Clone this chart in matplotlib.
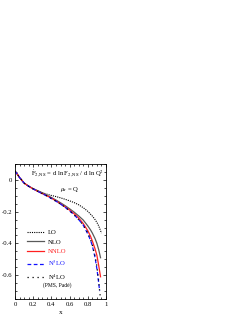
import matplotlib
matplotlib.use("Agg")
import matplotlib.pyplot as plt
from matplotlib.ticker import MultipleLocator

plt.rcParams['font.family'] = ['Liberation Serif', 'DejaVu Serif']
plt.rcParams['mathtext.fontset'] = 'stix'

# data
x_lo = [0.0, 0.02, 0.05, 0.1, 0.15, 0.2, 0.25, 0.3, 0.35, 0.4, 0.45, 0.5, 0.55, 0.6, 0.65, 0.7, 0.75, 0.8, 0.85, 0.88, 0.9, 0.92, 0.94, 0.95]
y_lo = [0.055, 0.04, 0.015, -0.02, -0.04, -0.055, -0.068, -0.08, -0.09, -0.098, -0.105, -0.113, -0.122, -0.132, -0.143, -0.157, -0.175, -0.198, -0.228, -0.25, -0.268, -0.29, -0.32, -0.335]

x_hi = [0.0, 0.02, 0.05, 0.1, 0.15, 0.2, 0.25, 0.3, 0.35, 0.4, 0.45, 0.5, 0.55, 0.6, 0.65, 0.7, 0.75, 0.8, 0.83, 0.85, 0.88, 0.9, 0.92, 0.94]
y_nlo = [0.055, 0.04, 0.015, -0.02, -0.04, -0.056, -0.07, -0.083, -0.097, -0.111, -0.127, -0.144, -0.162, -0.182, -0.203, -0.227, -0.253, -0.29, -0.315, -0.335, -0.37, -0.40, -0.44, -0.49]
y_nnlo = [0.055, 0.04, 0.015, -0.02, -0.04, -0.057, -0.072, -0.086, -0.1, -0.115, -0.132, -0.15, -0.17, -0.19, -0.213, -0.24, -0.275, -0.32, -0.355, -0.385, -0.435, -0.475, -0.54, -0.61]
x_n3 = [0.0, 0.02, 0.05, 0.1, 0.15, 0.2, 0.25, 0.3, 0.35, 0.4, 0.45, 0.5, 0.55, 0.6, 0.65, 0.7, 0.75, 0.8, 0.83, 0.85, 0.88, 0.9, 0.92, 0.93]
y_n3lo = [0.055, 0.04, 0.015, -0.02, -0.04, -0.057, -0.072, -0.087, -0.101, -0.117, -0.134, -0.152, -0.172, -0.195, -0.22, -0.25, -0.285, -0.34, -0.38, -0.415, -0.49, -0.56, -0.65, -0.70]
x_n4 = [0.0, 0.02, 0.05, 0.1, 0.15, 0.2, 0.25, 0.3, 0.35, 0.4, 0.45, 0.5, 0.55, 0.6, 0.65, 0.7, 0.75, 0.8, 0.83, 0.85, 0.88, 0.9, 0.92, 0.93, 0.94]
y_n4lo = [0.055, 0.04, 0.015, -0.02, -0.04, -0.057, -0.072, -0.087, -0.101, -0.117, -0.134, -0.152, -0.172, -0.195, -0.22, -0.25, -0.284, -0.335, -0.375, -0.41, -0.48, -0.545, -0.64, -0.70, -0.75]

x_ticks = [0, 0.2, 0.4, 0.6, 0.8, 1]
x_ticklabels = ['0', '0.2', '0.4', '0.6', '0.8', '1']
y_ticks = [0, -0.2, -0.4, -0.6]
y_ticklabels = ['0', '-0.2', '-0.4', '-0.6']

fig = plt.figure(figsize=(2.45, 3.17), dpi=100)
ax = fig.add_axes([15/245, 18/317, 91/245, 135/317])

fs = 4.8
ax.plot(x_lo, y_lo, color='black', lw=0.8, ls=(0, (1, 1)), label='LO')
ax.plot(x_hi, y_nlo, color='#5a5a5a', lw=0.9, ls='-', label='NLO')
ax.plot(x_hi, y_nnlo, color='#ff2020', lw=0.9, ls='-', label='NNLO')
ax.plot(x_n3, y_n3lo, color='#1010ff', lw=0.9, ls=(0, (3, 2)), label=r'N$^3$LO')
ax.plot(x_n4, y_n4lo, color='black', lw=0.9, ls=(0, (1, 3)), label=r'N$^4$LO')

ax.set_xlim(0, 1)
ax.set_ylim(-0.75, 0.1)
ax.set_xticks(x_ticks)
ax.set_xticklabels(x_ticklabels)
ax.set_yticks(y_ticks)
ax.set_yticklabels(y_ticklabels)
ax.xaxis.set_minor_locator(MultipleLocator(0.05))
ax.yaxis.set_minor_locator(MultipleLocator(0.05))
ax.tick_params(which='both', direction='in', top=True, right=True, labelsize=fs, pad=2)
ax.tick_params(which='major', length=2.5, width=0.5)
ax.tick_params(which='minor', length=1.3, width=0.5)
for s in ax.spines.values():
    s.set_linewidth(0.6)
ax.set_xlabel('x', fontsize=fs + 0.5, labelpad=2.5)

ax.text(0.98, 0.93, r'$\dot{\rm F}_{\rm 2,NS}$ = d ln F$_{\rm 2,NS}$ / d ln Q$^2$',
        transform=ax.transAxes, ha='right', va='center', fontsize=fs)
ax.text(0.6, 0.81, r'$\mu_{\rm r}$ = Q', transform=ax.transAxes, ha='center', va='center', fontsize=fs)

leg = ax.legend(loc='upper left', bbox_to_anchor=(0.1, 0.535), fontsize=fs, frameon=False,
                handlelength=2.6, handletextpad=0.6, labelspacing=0.6, borderaxespad=0)
for t, c in zip(leg.get_texts(), ['black', 'black', '#ff2020', '#1010ff', 'black']):
    t.set_color(c)
ax.text(0.31, 0.10, '(PMS, Padé)', transform=ax.transAxes, fontsize=fs - 0.8, ha='left', va='center')

fig.savefig('out.png', dpi=100)
